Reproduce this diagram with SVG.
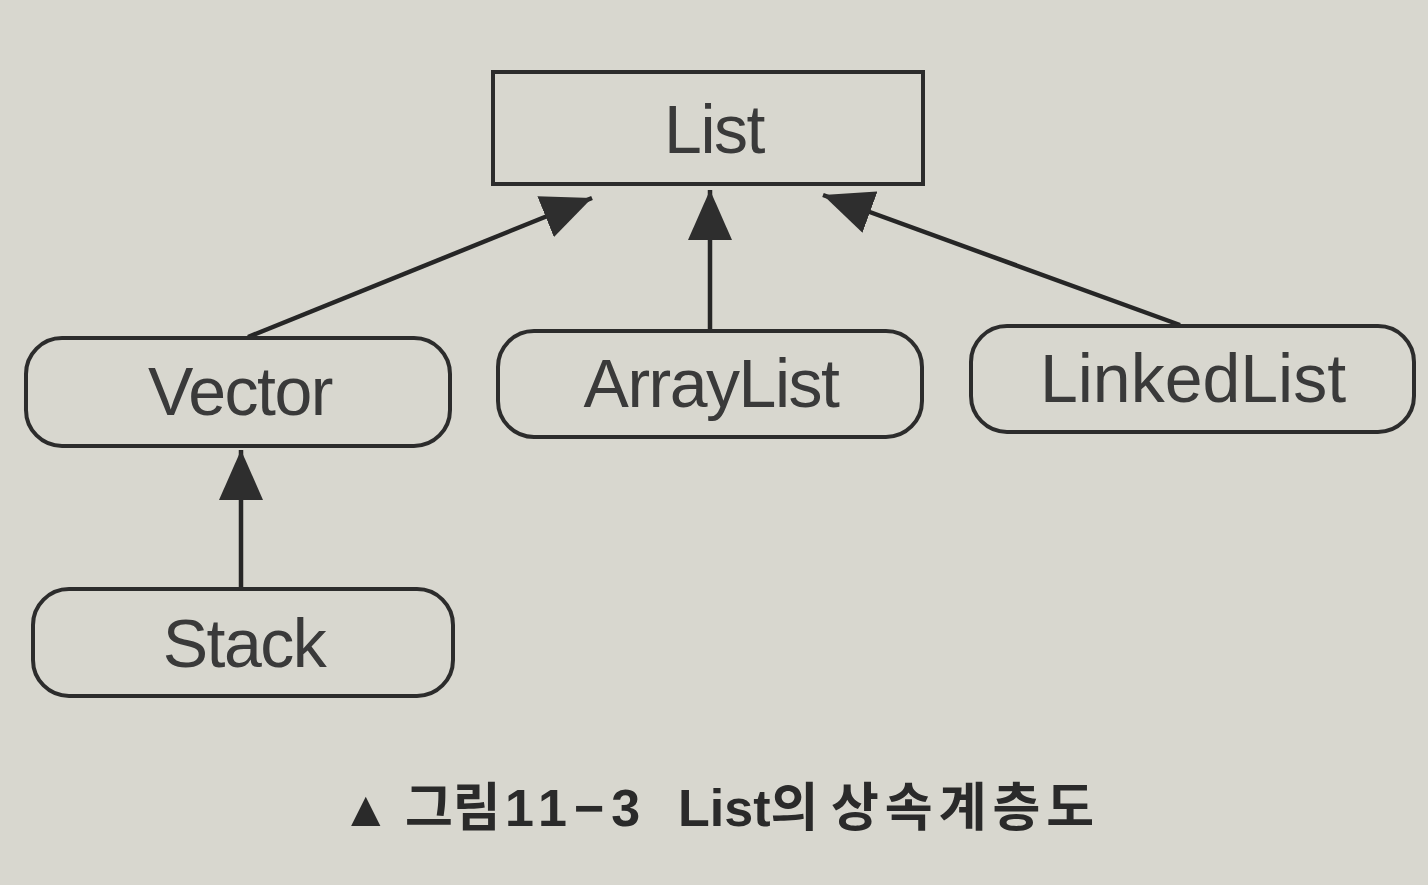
<svg xmlns="http://www.w3.org/2000/svg" width="1428" height="885" viewBox="0 0 1428 885">
  <style>
    .box { fill: none; stroke: #2c2c2c; stroke-width: 4; }
    .lbl { font-family: "Liberation Sans", Arial, sans-serif; font-size: 68px; fill: #3a3a3a; text-anchor: middle; letter-spacing: -1.5px; }
    .edge { stroke: #262626; stroke-width: 4.5; fill: none; }
    .cap { font-family: "Liberation Sans", "Noto Sans CJK KR", sans-serif; font-weight: bold; font-size: 52px; fill: #2a2a2a; }
  </style>
  <defs>
    <marker id="arr" viewBox="0 0 50 44" refX="50" refY="22" markerWidth="50" markerHeight="44" markerUnits="userSpaceOnUse" orient="auto">
      <path d="M0,0 L50,22 L0,44 Z" fill="#2e2e2e"/>
    </marker>
  </defs>
  <rect x="0" y="0" width="1428" height="885" fill="#d8d7cf"/>

  <g id="connectors">
    <line class="edge" x1="248" y1="337" x2="592" y2="198" marker-end="url(#arr)"/>
    <line class="edge" x1="710" y1="330" x2="710" y2="190" marker-end="url(#arr)"/>
    <line class="edge" x1="1180" y1="325" x2="823" y2="195" marker-end="url(#arr)"/>
    <line class="edge" x1="241" y1="590" x2="241" y2="450" marker-end="url(#arr)"/>
  </g>

  <g id="node-list">
    <rect class="box" x="493" y="72" width="430" height="112"/>
    <text class="lbl" x="714" y="153">List</text>
  </g>
  <g id="node-vector">
    <rect class="box" x="26" y="338" width="424" height="108" rx="36"/>
    <text class="lbl" x="240" y="415">Vector</text>
  </g>
  <g id="node-arraylist">
    <rect class="box" x="498" y="331" width="424" height="106" rx="36"/>
    <text class="lbl" x="711" y="407">ArrayList</text>
  </g>
  <g id="node-linkedlist">
    <rect class="box" x="971" y="326" width="443" height="106" rx="36"/>
    <text class="lbl" x="1193" y="402" style="letter-spacing:0">LinkedList</text>
  </g>
  <g id="node-stack">
    <rect class="box" x="33" y="589" width="420" height="107" rx="36"/>
    <text class="lbl" x="244" y="667">Stack</text>
  </g>

  <g id="caption" class="cap">
    <text x="341" y="826" font-size="50">▲</text>
    <text x="405" y="826">그림</text>
    <text x="505" y="826" letter-spacing="7">11−3</text>
    <text x="678" y="826">List의</text>
    <text x="831" y="826" letter-spacing="6">상속계층도</text>
  </g>
</svg>
